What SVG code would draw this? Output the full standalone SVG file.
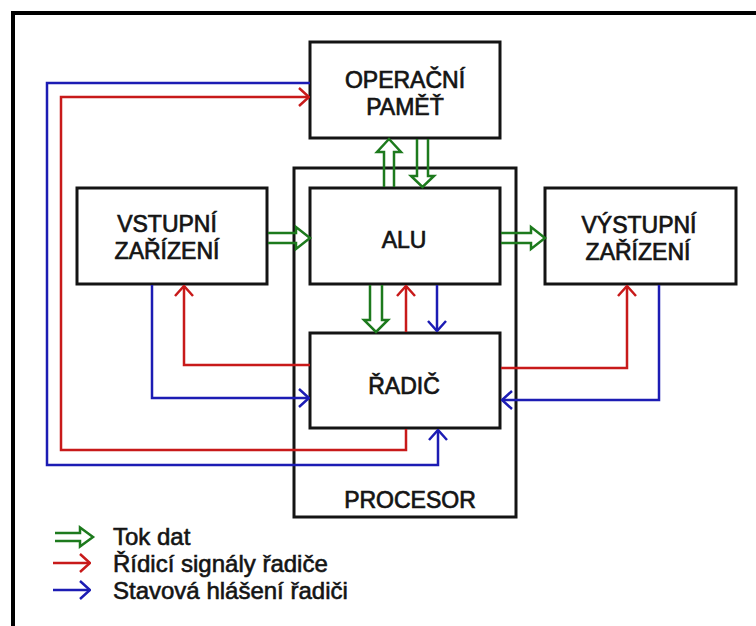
<svg xmlns="http://www.w3.org/2000/svg" width="756" height="626" viewBox="0 0 756 626">
<style>
.box{fill:#fff;stroke:#141414;stroke-width:3}
.frame{fill:none;stroke:#141414;stroke-width:3}
.lbl{font-family:"Liberation Sans",Arial,sans-serif;font-size:23px;fill:#141414;stroke:#141414;stroke-width:0.7;text-anchor:middle}
.leg{font-family:"Liberation Sans",Arial,sans-serif;font-size:24px;fill:#141414;stroke:#141414;stroke-width:0.6}
.red{fill:none;stroke:#c81a1a;stroke-width:2.5}
.blue{fill:none;stroke:#1c1cb4;stroke-width:2.5}
.green{fill:none;stroke:#1d7a1d;stroke-width:2.5;stroke-linejoin:miter}
</style>
<defs>
<marker id="ar" viewBox="0 0 12 20" refX="11" refY="10" markerWidth="12" markerHeight="20" markerUnits="userSpaceOnUse" orient="auto">
<path d="M1,1 L11,10 L1,19" fill="none" stroke="#c81a1a" stroke-width="2.5"/>
</marker>
<marker id="ab" viewBox="0 0 12 20" refX="11" refY="10" markerWidth="12" markerHeight="20" markerUnits="userSpaceOnUse" orient="auto">
<path d="M1,1 L11,10 L1,19" fill="none" stroke="#1c1cb4" stroke-width="2.5"/>
</marker>
</defs>
<rect x="0" y="0" width="756" height="626" fill="#fff"/>
<path d="M13,11 V626 M11,13 H756" fill="none" stroke="#000" stroke-width="4"/>

<g id="procesor">
<rect class="frame" x="294" y="168" width="222" height="349"/>
<text class="lbl" x="410" y="508">PROCESOR</text>
</g>
<g id="operacni-pamet">
<rect class="box" x="310" y="42" width="190" height="96"/>
<text class="lbl" x="405" y="88">OPERAČNÍ</text>
<text class="lbl" x="405" y="115">PAMĚŤ</text>
</g>
<g id="vstupni">
<rect class="box" x="77" y="188" width="190" height="96"/>
<text class="lbl" x="167" y="232">VSTUPNÍ</text>
<text class="lbl" x="167" y="259">ZAŘÍZENÍ</text>
</g>
<g id="alu">
<rect class="box" x="310" y="188" width="190" height="96"/>
<text class="lbl" x="404" y="248">ALU</text>
</g>
<g id="vystupni">
<rect class="box" x="545" y="188" width="191" height="96"/>
<text class="lbl" x="639" y="233">VÝSTUPNÍ</text>
<text class="lbl" x="638" y="260">ZAŘÍZENÍ</text>
</g>
<g id="radic">
<rect class="box" x="310" y="333" width="190" height="95"/>
<text class="lbl" x="404" y="394">ŘADIČ</text>
</g>

<g id="connectors">
<path class="blue" d="M310,83 H47 V465 H438 V430" marker-end="url(#ab)"/>
<path class="red" d="M406,429 V450 H61 V97 H309" marker-end="url(#ar)"/>
<path class="red" d="M310,365 H184 V286" marker-end="url(#ar)"/>
<path class="blue" d="M152,285 V398 H309" marker-end="url(#ab)"/>
<path class="red" d="M501,368 H627 V286" marker-end="url(#ar)"/>
<path class="blue" d="M659,285 V400 H502" marker-end="url(#ab)"/>
<path class="red" d="M406,332 V286" marker-end="url(#ar)"/>
<path class="blue" d="M437,285 V331" marker-end="url(#ab)"/>
<path class="green" d="M268,233 H296 V227 L310,238 L296,249 V243 H268"/>
<path class="green" d="M501,233 H531 V227 L545,238 L531,249 V243 H501"/>
<path class="green" d="M384,187 V152 H377 L389,139 L401,152 H394 V187"/>
<path class="green" d="M417,139 V176 H411 L422.5,187 L434,176 H428 V139"/>
<path class="green" d="M370,285 V320 H364 L376,332 L388,320 H382 V285"/>
</g>

<g id="legend">
<path class="green" d="M55,533 H80 V527.5 L93,537 L80,546.5 V541 H55"/>
<path class="red" d="M53,563 H90" marker-end="url(#ar)"/>
<path class="blue" d="M53,590 H90" marker-end="url(#ab)"/>
<text class="leg" x="113" y="545">Tok dat</text>
<text class="leg" x="113" y="572">Řídicí signály řadiče</text>
<text class="leg" x="113" y="599">Stavová hlášení řadiči</text>
</g>
</svg>
